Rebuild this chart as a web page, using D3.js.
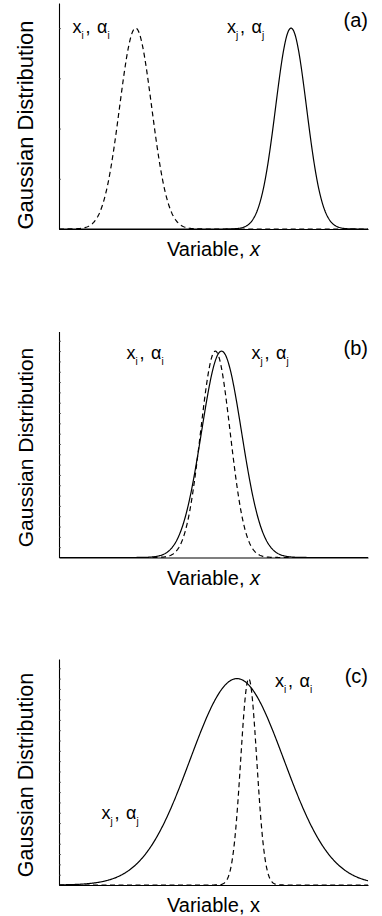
<!DOCTYPE html>
<html>
<head>
<meta charset="utf-8">
<script src="https://cdn.jsdelivr.net/npm/d3@7"></script>
<style>
  html, body { margin: 0; padding: 0; background: #fff; }
  svg { display: block; }
  text { font-family: "Liberation Sans", Arial, sans-serif; fill: #000; }
</style>
</head>
<body>
<svg id="chart" width="382" height="916"></svg>
<script>
// Panel tags
const panelTags = ["(a)", "(b)", "(c)"];

// Horizontal variable range shared by all panels
const xDomain = [0, 100];

// Top of the vertical scale in each panel (ticks every whole unit)
const yMax = [4.5, 21.9, 21.9];

// Distribution i (dashed): centre, spread and peak height per panel
const distICentre = [24.8, 50.6, 61.4];
const distIWidth  = [5.2, 4.8, 2.6];
const distIPeak   = [4, 20, 20];

// Distribution j (solid): centre, spread and peak height per panel
const distJCentre = [75.1, 52.6, 57.6];
const distJWidth  = [5.0, 6.5, 15.2];
const distJPeak   = [4, 20, 20];

// Axis titles
const yTitle = "Gaussian Distribution";
const xTitleText = "Variable, ";
const xTitleVar = "x";
const xTitleVarItalic = [true, true, false];

// Layout
const plotLeft = 59, plotRight = 368;
const plotH = 226;
const panelTop = [3, 331.5, 659];
const yTitleCentre = [125, 447.5, 775];
const yTitleSize = [22, 21, 21.5];
// label anchors (x of the "x" glyph, baseline) for i and j labels
const labelI = [[72.5, 32.5], [126.5, 359], [275, 686.5]];
const labelJ = [[227, 32.5], [251.5, 359], [101.5, 818.5]];

const svg = d3.select("#chart");

function gaussian(centre, width, peak) {
  return x => peak * Math.exp(-0.5 * Math.pow((x - centre) / width, 2));
}

function drawLabel(g, x0, y0, sub) {
  const t = g.append("text").attr("x", x0).attr("y", y0).style("font-size", "18px");
  t.append("tspan").text("x");
  t.append("tspan").attr("dy", 6).style("font-size", "10px").text(sub);
  t.append("tspan").attr("x", x0 + 13).attr("dy", -6).text(",");
  t.append("tspan").attr("x", x0 + 24.5).text("\u03b1");
  t.append("tspan").attr("dy", 6).style("font-size", "10px").text(sub);
}

panelTags.forEach((tag, k) => {
  const top = panelTop[k];
  const base = top + plotH;
  const g = svg.append("g");

  const x = d3.scaleLinear().domain(xDomain).range([plotLeft, plotRight]);
  const y = d3.scaleLinear().domain([0, yMax[k]]).range([base, top]);

  // x axis: plain baseline
  g.append("g")
    .attr("transform", `translate(0,${base})`)
    .call(d3.axisBottom(x).tickValues([]).tickSizeOuter(0))
    .call(s => s.select(".domain").attr("stroke", "#000").attr("stroke-width", 1.1));

  // y axis with short inward ticks
  const yTicks = d3.range(1, Math.floor(yMax[k]) + 1);
  g.append("g")
    .attr("transform", `translate(${plotLeft},0)`)
    .call(d3.axisLeft(y).tickValues(yTicks).tickFormat("").tickSizeInner(-2).tickSizeOuter(0))
    .call(s => s.select(".domain").attr("stroke", "#000").attr("stroke-width", 1.1))
    .call(s => s.selectAll(".tick line").attr("stroke", "#444").attr("stroke-width", 0.8));

  const xs = d3.range(xDomain[0], xDomain[1] + 0.0001, 0.2);
  const line = d3.line().x(d => x(d[0])).y(d => y(d[1])).curve(d3.curveLinear);

  const fI = gaussian(distICentre[k], distIWidth[k], distIPeak[k]);
  const fJ = gaussian(distJCentre[k], distJWidth[k], distJPeak[k]);

  g.append("path")
    .datum(xs.map(v => [v, fJ(v)]))
    .attr("d", line)
    .attr("fill", "none")
    .attr("stroke", "#000")
    .attr("stroke-width", 1.2);

  g.append("path")
    .datum(xs.map(v => [v, fI(v)]))
    .attr("d", line)
    .attr("fill", "none")
    .attr("stroke", "#000")
    .attr("stroke-width", 1.2)
    .attr("stroke-dasharray", "5,3.5");

  // panel tag
  g.append("text")
    .attr("x", plotRight)
    .attr("y", top + 23.5)
    .attr("text-anchor", "end")
    .style("font-size", "20px")
    .text(tag);

  // x axis title
  const xt = g.append("text")
    .attr("x", (plotLeft + plotRight) / 2)
    .attr("y", base + 27)
    .attr("text-anchor", "middle")
    .style("font-size", "20px");
  xt.append("tspan").text(xTitleText);
  xt.append("tspan").style("font-style", xTitleVarItalic[k] ? "italic" : "normal").text(xTitleVar);

  // y axis title
  g.append("text")
    .attr("transform", `translate(33,${yTitleCentre[k]}) rotate(-90)`)
    .attr("text-anchor", "middle")
    .style("font-size", yTitleSize[k] + "px")
    .text(yTitle);

  drawLabel(g, labelI[k][0], labelI[k][1], "i");
  drawLabel(g, labelJ[k][0], labelJ[k][1], "j");
});
</script>
</body>
</html>
